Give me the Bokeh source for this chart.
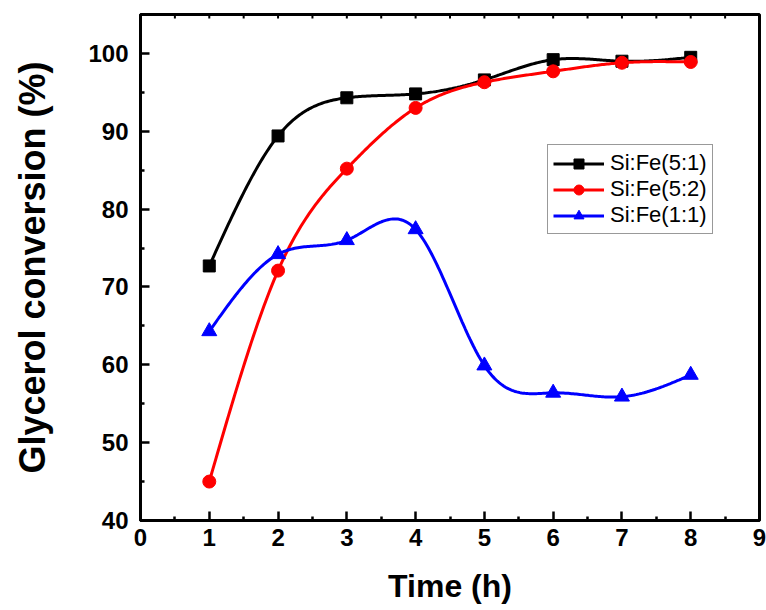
import numpy as np
from bokeh.plotting import figure
from bokeh.models import Range1d, FixedTicker, Legend, LegendItem
from bokeh.embed import file_html
from bokeh.resources import INLINE

time_h = [1, 2, 3, 4, 5, 6, 7, 8]
si_fe_5_1 = [72.7, 89.4, 94.3, 94.8, 96.6, 99.2, 99.0, 99.5]
si_fe_5_2 = [45.0, 72.1, 85.2, 93.0, 96.3, 97.7, 98.8, 98.9]
si_fe_1_1 = [64.3, 74.2, 76.0, 77.4, 59.9, 56.4, 55.9, 58.7]
series_names = ["Si:Fe(5:1)", "Si:Fe(5:2)", "Si:Fe(1:1)"]
x_ticks = [0, 1, 2, 3, 4, 5, 6, 7, 8, 9]
x_minor = [0.5, 1.5, 2.5, 3.5, 4.5, 5.5, 6.5, 7.5, 8.5]
y_ticks = [40, 50, 60, 70, 80, 90, 100]
y_minor = [45, 55, 65, 75, 85, 95, 105]
X_MIN, X_MAX, Y_MIN, Y_MAX = 0, 9, 40, 105


def natural_spline(x, y, n=300):
    x = np.asarray(x, float)
    y = np.asarray(y, float)
    k = len(x)
    h = np.diff(x)
    A = np.zeros((k, k))
    b = np.zeros(k)
    A[0, 0] = 1
    A[-1, -1] = 1
    for i in range(1, k - 1):
        A[i, i - 1] = h[i - 1]
        A[i, i] = 2 * (h[i - 1] + h[i])
        A[i, i + 1] = h[i]
        b[i] = 6 * ((y[i + 1] - y[i]) / h[i] - (y[i] - y[i - 1]) / h[i - 1])
    M = np.linalg.solve(A, b)
    xs = np.linspace(x[0], x[-1], n)
    ys = np.empty_like(xs)
    for j, xv in enumerate(xs):
        i = min(np.searchsorted(x, xv, side="right") - 1, k - 2)
        t1 = x[i + 1] - xv
        t0 = xv - x[i]
        hi = h[i]
        ys[j] = (M[i] * t1 ** 3 / (6 * hi) + M[i + 1] * t0 ** 3 / (6 * hi)
                 + (y[i] / hi - M[i] * hi / 6) * t1
                 + (y[i + 1] / hi - M[i + 1] * hi / 6) * t0)
    return xs, ys


FONT = "Liberation Sans"

p = figure(width=766, height=610, output_backend="svg", toolbar_location=None,
           x_range=Range1d(X_MIN, X_MAX), y_range=Range1d(Y_MIN, Y_MAX),
           min_border_left=140, min_border_right=7, min_border_top=14,
           min_border_bottom=90)
p.xgrid.visible = False
p.ygrid.visible = False
p.outline_line_color = "black"
p.outline_line_width = 3
p.background_fill_color = "white"
p.border_fill_color = "white"

xa = p.xaxis[0]
xa.ticker = FixedTicker(ticks=x_ticks, minor_ticks=x_minor)
ya = p.yaxis[0]
ya.ticker = FixedTicker(ticks=y_ticks, minor_ticks=y_minor)
for ax in (xa, ya):
    ax.axis_line_width = 3
    ax.major_tick_line_width = 2.5
    ax.minor_tick_line_width = 2.5
    ax.major_tick_in = 9
    ax.major_tick_out = 0
    ax.minor_tick_in = 4
    ax.minor_tick_out = 0
    ax.major_label_text_font = FONT
    ax.major_label_text_font_style = "bold"
    ax.major_label_text_font_size = "24px"
    ax.major_label_text_color = "black"
    ax.axis_label_text_font = FONT
    ax.axis_label_text_font_style = "bold"
    ax.axis_label_text_color = "black"
xa.axis_label = "Time (h)"
ya.axis_label = "Glycerol conversion (%)"
xa.axis_label_text_font_size = "32px"
ya.axis_label_text_font_size = "36px"
xa.major_label_standoff = 8
xa.axis_label_standoff = 19
ya.major_label_standoff = 12
ya.axis_label_standoff = 32

# small inward ticks along the top frame edge
top_ticks = sorted(x_ticks + x_minor)
tick_len = (Y_MAX - Y_MIN) / 506 * 4
p.segment(x0=top_ticks, y0=[Y_MAX] * len(top_ticks), x1=top_ticks,
          y1=[Y_MAX - tick_len] * len(top_ticks), line_color="black", line_width=2)

colors = ["black", "red", "blue"]
markers = ["square", "circle", "triangle"]
sizes = [12, 13, 15]
items = []
for name, vals, c, m, s in zip(series_names, [si_fe_5_1, si_fe_5_2, si_fe_1_1], colors, markers, sizes):
    xs, ys = natural_spline(time_h, vals)
    r1 = p.line(xs, ys, line_color=c, line_width=3)
    r2 = p.scatter(time_h, vals, marker=m, size=s, fill_color=c, line_color=c)
    items.append(LegendItem(label=name, renderers=[r1, r2]))

legend = Legend(items=items, location=(407, 286))
legend.label_text_font = FONT
legend.label_text_font_size = "22px"
legend.label_text_color = "black"
legend.glyph_width = 51
legend.glyph_height = 25
legend.label_height = 25
legend.spacing = 0
legend.padding = 5
legend.margin = 0
legend.label_standoff = 6
legend.border_line_color = "#333333"
legend.border_line_width = 1
legend.background_fill_alpha = 1
p.add_layout(legend, "center")

open("out.html", "w").write(file_html(p, INLINE))
